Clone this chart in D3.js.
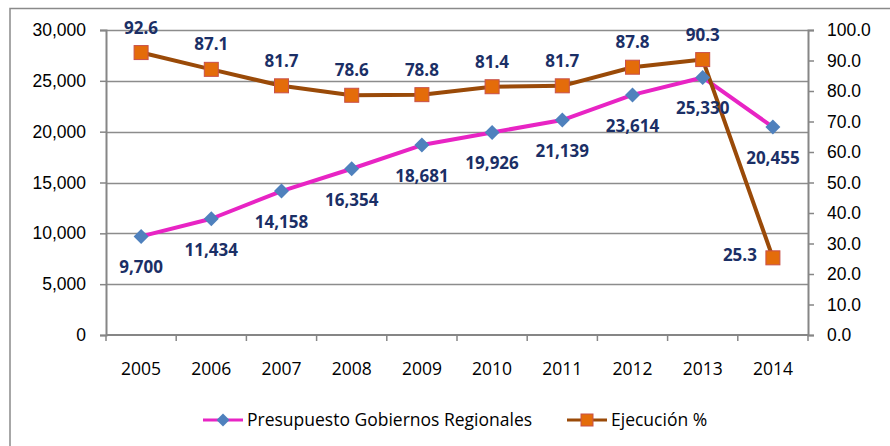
<!DOCTYPE html>
<html>
<head>
<meta charset="utf-8">
<script src="https://cdn.jsdelivr.net/npm/d3@7"></script>
<style>
  body { margin: 0; background: #fff; }
  svg { display: block; font-family: 'Open Sans', sans-serif; }
  .axis path, .axis line { stroke: #868686; }
  .axis text { fill: #000; font-size: 17.5px; }
</style>
</head>
<body>
<div id="chart"></div>
<script>
const years = ['2005', '2006', '2007', '2008', '2009', '2010', '2011', '2012', '2013', '2014'];
const presupuesto = [9700, 11434, 14158, 16354, 18681, 19926, 21139, 23614, 25330, 20455];
const ejecucion = [92.6, 87.1, 81.7, 78.6, 78.8, 81.4, 81.7, 87.8, 90.3, 25.3];
const leftTicks = [0, 5000, 10000, 15000, 20000, 25000, 30000];
const rightTicks = [0, 10, 20, 30, 40, 50, 60, 70, 80, 90, 100];
const seriesNames = ['Presupuesto Gobiernos Regionales', 'Ejecución %'];

const width = 890;
const height = 446;
const plot = { left: 106, right: 808, top: 30, bottom: 335 };
const labelColor = '#1b2f66';
const pink = '#e824c4';
const blue = '#4f81bd';
const brown = '#9a4a08';
const orange = '#e46c0a';

const svg = d3.select('#chart').append('svg').attr('width', width).attr('height', height);

// outer chart frame (cropped at right and bottom)
svg
  .append('rect')
  .attr('x', 10)
  .attr('y', 8.5)
  .attr('width', 900)
  .attr('height', 460)
  .attr('fill', 'none')
  .attr('stroke', '#8a8a8a')
  .attr('stroke-width', 1.5);

const x = d3.scaleBand().domain(years).range([plot.left, plot.right]).padding(0);
const yLeft = d3.scaleLinear().domain([0, 30000]).range([plot.bottom, plot.top]);
const yRight = d3.scaleLinear().domain([0, 100]).range([plot.bottom, plot.top]);
const cx = (i) => x(years[i]) + x.bandwidth() / 2;

// gridlines
svg
  .append('g')
  .selectAll('line')
  .data(leftTicks.slice(1))
  .join('line')
  .attr('x1', plot.left)
  .attr('x2', plot.right)
  .attr('y1', (d) => Math.round(yLeft(d)) + 0.5)
  .attr('y2', (d) => Math.round(yLeft(d)) + 0.5)
  .attr('stroke', '#8c8c8c')
  .attr('stroke-width', 1.5);

const fmtThousands = d3.format(',');

const leftAxis = d3.axisLeft(yLeft).tickValues(leftTicks).tickFormat(fmtThousands).tickSize(6).tickPadding(14);
svg
  .append('g')
  .attr('class', 'axis')
  .attr('transform', `translate(${plot.left}, 0)`)
  .call(leftAxis)
  .call((g) => g.select('.domain').attr('stroke-width', 2))
  .call((g) => g.selectAll('line').attr('stroke-width', 1.5));

const rightAxis = d3.axisRight(yRight).tickValues(rightTicks).tickFormat(d3.format('.1f')).tickSize(6).tickPadding(13);
svg
  .append('g')
  .attr('class', 'axis')
  .attr('transform', `translate(${plot.right}, 0)`)
  .call(rightAxis)
  .call((g) => g.select('.domain').attr('stroke-width', 2))
  .call((g) => g.selectAll('line').attr('stroke-width', 1.5));

// x axis: ticks at category boundaries
svg
  .append('line')
  .attr('x1', plot.left)
  .attr('x2', plot.right)
  .attr('y1', plot.bottom)
  .attr('y2', plot.bottom)
  .attr('stroke', '#868686')
  .attr('stroke-width', 2);

const boundaries = years.map((d) => x(d)).concat([plot.right]);
svg
  .append('g')
  .selectAll('line')
  .data(boundaries)
  .join('line')
  .attr('x1', (d) => d)
  .attr('x2', (d) => d)
  .attr('y1', plot.bottom)
  .attr('y2', plot.bottom + 6)
  .attr('stroke', '#868686')
  .attr('stroke-width', 1.5);

svg
  .append('g')
  .selectAll('text')
  .data(years)
  .join('text')
  .attr('x', (d) => x(d) + x.bandwidth() / 2)
  .attr('y', 369)
  .attr('dy', '0.35em')
  .attr('text-anchor', 'middle')
  .style('font-size', '17.5px')
  .text((d) => d);

// lines
const presLine = d3
  .line()
  .x((d, i) => cx(i))
  .y((d) => yLeft(d));
const ejecLine = d3
  .line()
  .x((d, i) => cx(i))
  .y((d) => yRight(d));

svg
  .append('path')
  .datum(presupuesto)
  .attr('fill', 'none')
  .attr('stroke', pink)
  .attr('stroke-width', 4)
  .attr('stroke-linejoin', 'round')
  .attr('d', presLine);

svg
  .append('path')
  .datum(ejecucion)
  .attr('fill', 'none')
  .attr('stroke', brown)
  .attr('stroke-width', 4)
  .attr('stroke-linejoin', 'round')
  .attr('d', ejecLine);

const diamond = (g, px, py, r = 7.5) =>
  g
    .append('path')
    .attr('d', `M${px},${py - r}L${px + r},${py}L${px},${py + r}L${px - r},${py}Z`)
    .attr('fill', blue);

const square = (g, px, py, s = 14) =>
  g
    .append('rect')
    .attr('x', px - s / 2)
    .attr('y', py - s / 2)
    .attr('width', s)
    .attr('height', s)
    .attr('fill', orange)
    .attr('stroke', '#c8504a')
    .attr('stroke-width', 1);

const markers = svg.append('g');
presupuesto.forEach((d, i) => diamond(markers, cx(i), yLeft(d)));
ejecucion.forEach((d, i) => square(markers, cx(i), yRight(d)));

// data labels
const labels = svg.append('g').style('font-size', '17px').style('font-weight', 'bold').attr('fill', labelColor);
presupuesto.forEach((d, i) => {
  labels
    .append('text')
    .attr('x', cx(i))
    .attr('y', yLeft(d) + 31)
    .attr('dy', '0.35em')
    .attr('text-anchor', 'middle')
    .text(fmtThousands(d));
});
ejecucion.forEach((d, i) => {
  const last = i === ejecucion.length - 1;
  labels
    .append('text')
    .attr('x', last ? cx(i) - 16 : cx(i))
    .attr('y', last ? yRight(d) - 3 : yRight(d) - 25)
    .attr('dy', '0.35em')
    .attr('text-anchor', last ? 'end' : 'middle')
    .text(d.toFixed(1));
});

// legend
const legend = svg.append('g').style('font-size', '17.5px');
const legendItems = [
  { name: seriesNames[0], x: 203, color: pink, marker: (g, px, py) => diamond(g, px, py, 6.5) },
  { name: seriesNames[1], x: 567, color: brown, marker: (g, px, py) => square(g, px, py, 12) },
];
legendItems.forEach((item) => {
  legend
    .append('line')
    .attr('x1', item.x)
    .attr('x2', item.x + 40)
    .attr('y1', 420)
    .attr('y2', 420)
    .attr('stroke', item.color)
    .attr('stroke-width', 3);
  item.marker(legend, item.x + 20, 420);
  legend
    .append('text')
    .attr('x', item.x + 44)
    .attr('y', 420)
    .attr('dy', '0.35em')
    .text(item.name);
});
</script>
</body>
</html>
